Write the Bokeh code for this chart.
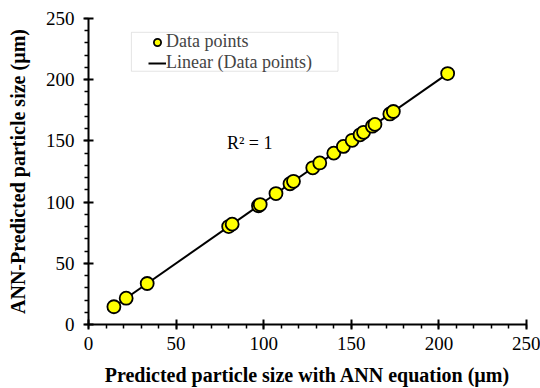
import numpy as np
from bokeh.plotting import figure
from bokeh.models import (SingleIntervalTicker, Legend, LegendItem, Label,
                          BoxAnnotation, Range1d)
from bokeh.embed import file_html
from bokeh.resources import INLINE

# Data
x_pred = [14.5, 21.5, 33.5, 80, 82, 97, 98, 107, 115, 117, 128, 132, 140,
          145.5, 150.5, 155, 157, 162, 163.5, 172, 174, 205]
y_ann = [14.5, 21.5, 33.5, 80, 82, 97, 98, 107, 115, 117, 128, 132, 140,
         145.5, 150.5, 155, 157, 162, 163.5, 172, 174, 205]
x_ticks_range = (0, 250)
y_ticks_range = (0, 250)

FONT = "Liberation Serif"

p = figure(width=540, height=388, output_backend="svg", toolbar_location=None,
           x_range=Range1d(*x_ticks_range), y_range=Range1d(*y_ticks_range),
           min_border_left=88, min_border_right=14, min_border_top=18,
           min_border_bottom=64)
p.outline_line_color = None
p.grid.visible = False
p.background_fill_color = "white"

# trend line
coef = np.polyfit(x_pred, y_ann, 1)
xs = np.array([min(x_pred), max(x_pred)])
line_r = p.line(xs, np.polyval(coef, xs), line_color="black", line_width=2)

pts = p.scatter(x_pred, y_ann, size=13, fill_color="#FFFF00",
                line_color="black", line_width=1.8)

for ax in (p.xaxis[0], p.yaxis[0]):
    ax.ticker = SingleIntervalTicker(interval=50, num_minor_ticks=5)
    ax.axis_line_width = 2
    ax.axis_line_color = "black"
    ax.major_tick_line_width = 2
    ax.major_tick_in = 5
    ax.major_tick_out = 5
    ax.minor_tick_in = 0
    ax.minor_tick_out = 4
    ax.minor_tick_line_width = 1.5
    ax.major_label_text_font = FONT
    ax.major_label_text_font_size = "19px"
    ax.major_label_text_color = "black"
    ax.axis_label_text_font = FONT
    ax.axis_label_text_font_style = "bold"
    ax.axis_label_text_font_size = "20px"
    ax.axis_label_text_color = "black"

p.xaxis.axis_label = "Predicted particle size with ANN equation (µm)"
p.yaxis.axis_label = "ANN-Predicted particle size (µm)"
p.xaxis.major_label_standoff = 7
p.yaxis.major_label_standoff = 9
p.xaxis.axis_label_standoff = 11
p.yaxis.axis_label_standoff = 14

# legend frame
box = BoxAnnotation(left=24.5, right=142.4, bottom=206.9, top=238.7,
                    fill_color="white", fill_alpha=1,
                    line_color="#aaaaaa", line_width=1, level="overlay")
p.add_layout(box)

legend = Legend(items=[LegendItem(label="Data points", renderers=[pts]),
                       LegendItem(label="Linear (Data points)", renderers=[line_r])],
                location=(60, 251), border_line_color=None,
                background_fill_alpha=0, padding=0, spacing=-4,
                glyph_width=18, glyph_height=18, label_standoff=0,
                label_text_font=FONT, label_text_font_size="18px",
                label_height=17, margin=0)
p.add_layout(legend)

p.add_layout(Label(x=79, y=140, text="R² = 1", text_font=FONT,
                   text_font_size="18px", text_color="black"))

open("out.html", "w").write(file_html(p, INLINE))
